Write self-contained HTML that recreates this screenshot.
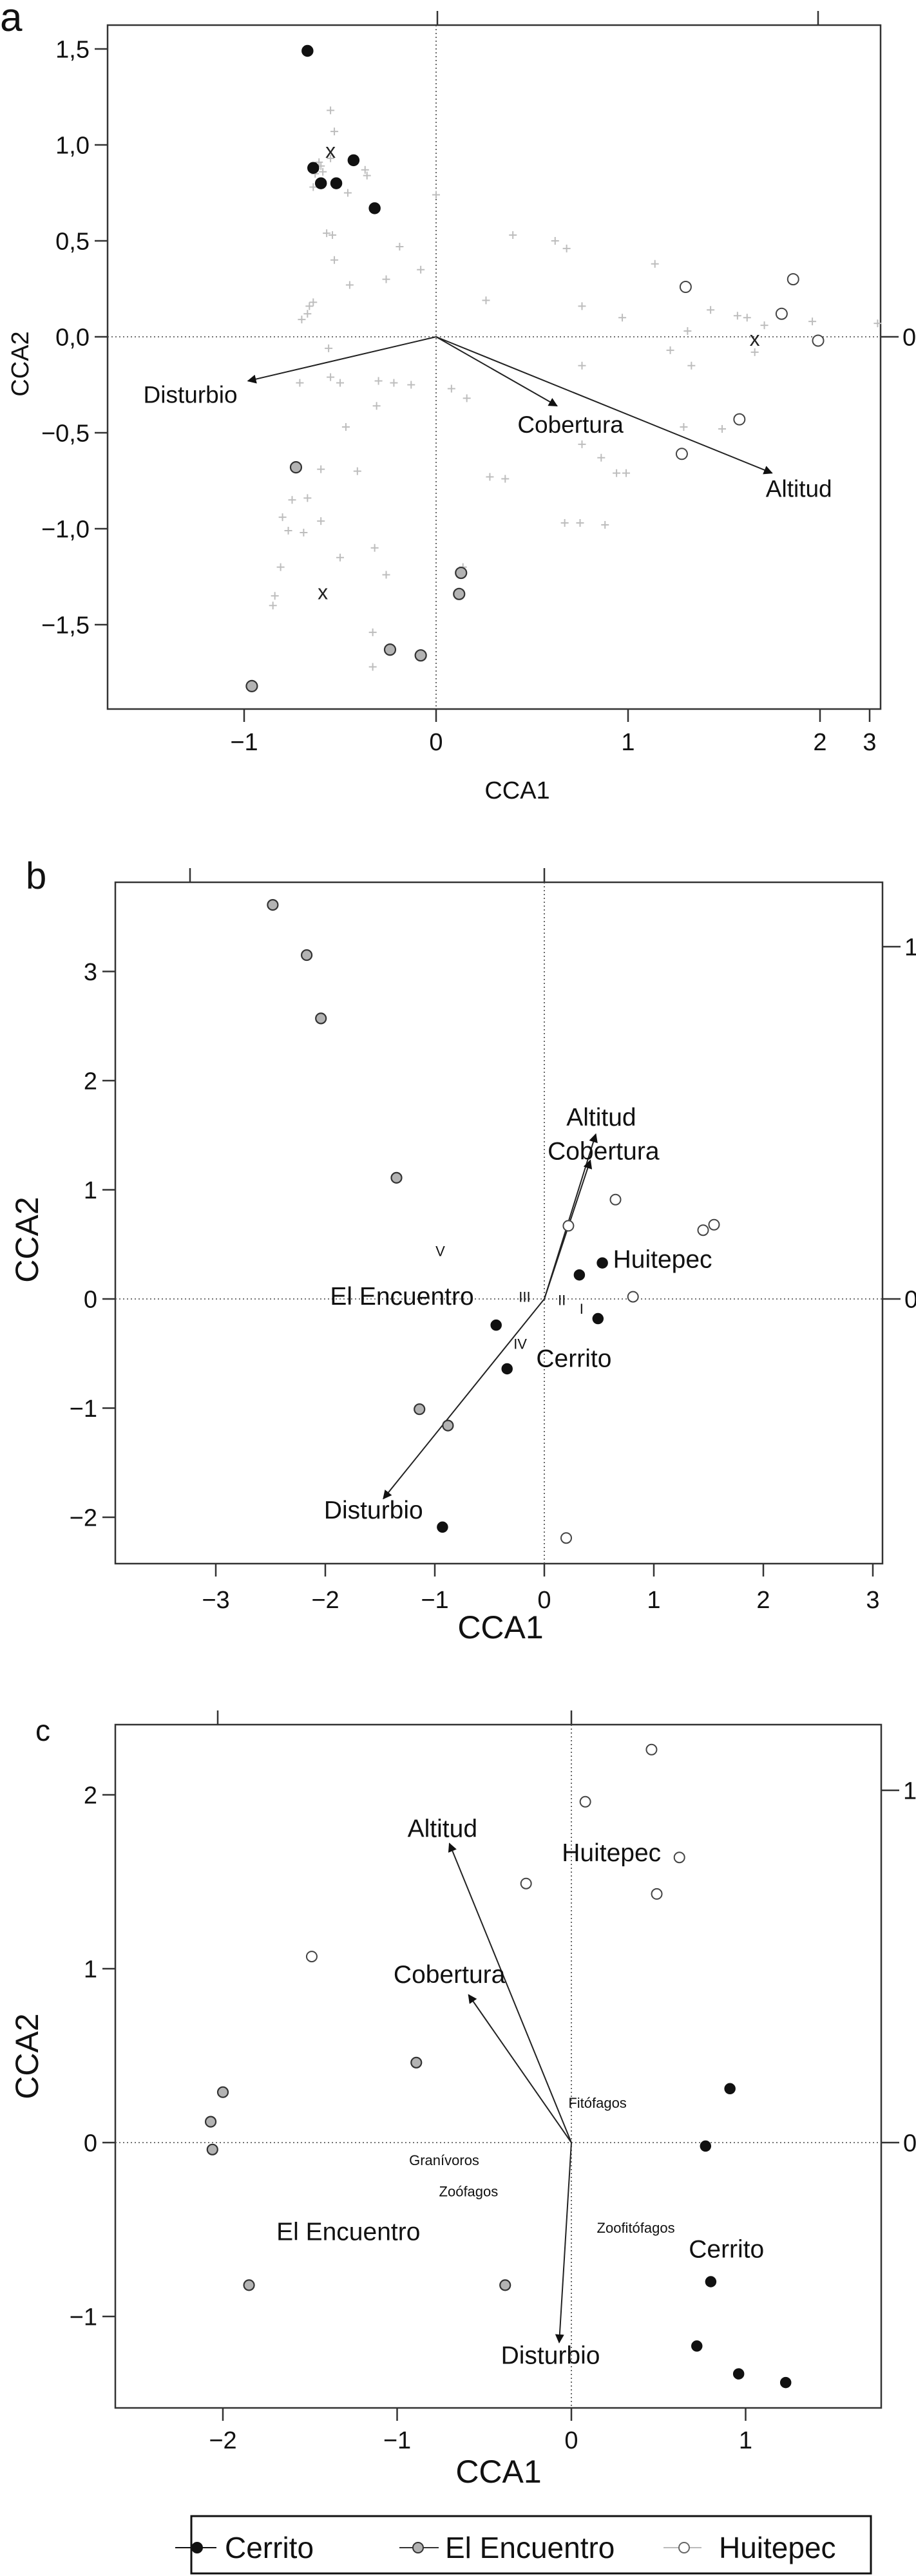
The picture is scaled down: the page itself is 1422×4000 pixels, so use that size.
<!DOCTYPE html>
<html><head><meta charset="utf-8"><style>
html,body{margin:0;padding:0;background:#fff;}
svg{display:block;font-family:"Liberation Sans",Arial,sans-serif;}
</style></head><body>
<svg id="fig" width="1422" height="4000" viewBox="0 0 1422 4000" xmlns="http://www.w3.org/2000/svg"></svg>
<script>
// ---------- Panel a data ----------
const aCerrito = [[-0.67,1.49],[-0.64,0.88],[-0.60,0.80],[-0.52,0.80],[-0.43,0.92],[-0.32,0.67]];
const aEncuentro = [[-0.73,-0.68],[0.13,-1.23],[0.12,-1.34],[-0.24,-1.63],[-0.08,-1.66],[-0.96,-1.82]];
const aHuitepec = [[1.30,0.26],[1.86,0.30],[1.80,0.12],[1.99,-0.02],[1.58,-0.43],[1.28,-0.61]];
const aCentroids = [[-0.55,0.97],[1.66,-0.01],[-0.59,-1.33]];
const aSpecies = [[-0.55,1.18],[-0.53,1.07],[-0.55,0.93],[-0.61,0.91],[-0.60,0.89],[-0.59,0.86],[-0.63,0.85],[-0.37,0.87],[-0.36,0.84],[-0.64,0.78],[-0.46,0.75],[0.00,0.74],[-0.57,0.54],[-0.54,0.53],[-0.53,0.40],[-0.19,0.47],[-0.45,0.27],[-0.26,0.30],[-0.08,0.35],[0.40,0.53],[0.62,0.50],[0.68,0.46],[1.14,0.38],[0.26,0.19],[-0.64,0.18],[-0.66,0.16],[-0.67,0.12],[-0.70,0.09],[0.76,0.16],[1.43,0.14],[0.97,0.10],[1.31,0.03],[1.57,0.11],[1.62,0.10],[1.71,0.06],[1.96,0.08],[2.30,0.07],[1.66,-0.08],[1.22,-0.07],[1.33,-0.15],[0.76,-0.15],[-0.56,-0.06],[-0.71,-0.24],[-0.55,-0.21],[-0.50,-0.24],[-0.30,-0.23],[-0.22,-0.24],[-0.13,-0.25],[0.08,-0.27],[0.16,-0.32],[-0.31,-0.36],[-0.47,-0.47],[1.29,-0.47],[1.49,-0.48],[0.76,-0.56],[0.86,-0.63],[-0.60,-0.69],[-0.41,-0.70],[0.28,-0.73],[0.36,-0.74],[0.94,-0.71],[0.99,-0.71],[-0.75,-0.85],[-0.67,-0.84],[-0.80,-0.94],[-0.77,-1.01],[-0.69,-1.02],[-0.60,-0.96],[0.67,-0.97],[0.75,-0.97],[0.88,-0.98],[-0.32,-1.10],[-0.81,-1.20],[-0.50,-1.15],[-0.26,-1.24],[0.14,-1.20],[-0.84,-1.35],[-0.85,-1.40],[-0.33,-1.54],[-0.33,-1.72]];
const aArrowNames = ["Disturbio","Cobertura","Altitud"];
const aArrowEnds = [[-0.98,-0.23],[0.63,-0.36],[1.75,-0.71]];
const aArrowLabels = [[-1.28,-0.30],[0.70,-0.455],[1.89,-0.79]];
const aXTicks = [-1,0,1,2];
const aXTickLabels = ["\u22121","0","1","2"];
const aYTicks = [1.5,1.0,0.5,0,-0.5,-1.0,-1.5];
const aYTickLabels = ["1,5","1,0","0,5","0,0","\u22120,5","\u22121,0","\u22121,5"];

// ---------- Panel b data ----------
const bCerrito = [[0.32,0.22],[0.53,0.33],[-0.44,-0.24],[0.49,-0.18],[-0.34,-0.64],[-0.93,-2.09]];
const bEncuentro = [[-2.48,3.61],[-2.17,3.15],[-2.04,2.57],[-1.35,1.11],[-1.14,-1.01],[-0.88,-1.16]];
const bHuitepec = [[0.22,0.67],[0.65,0.91],[1.45,0.63],[1.55,0.68],[0.81,0.02],[0.20,-2.19]];
const bArrowNames = ["Altitud","Cobertura","Disturbio"];
const bArrowEnds = [[0.47,1.51],[0.42,1.27],[-1.47,-1.83]];
const bArrowLabels = [[0.52,1.67],[0.54,1.36],[-1.56,-1.93]];
const bSiteNames = ["Huitepec","El Encuentro","Cerrito"];
const bSiteLabels = [[1.08,0.37],[-1.30,0.03],[0.27,-0.54]];
const bRomanNames = ["V","III","II","I","IV"];
const bRomanPos = [[-0.95,0.44],[-0.18,0.02],[0.16,-0.01],[0.34,-0.09],[-0.22,-0.41]];
const bXTicks = [-3,-2,-1,0,1,2,3];
const bXTickLabels = ["\u22123","\u22122","\u22121","0","1","2","3"];
const bYTicks = [3,2,1,0,-1,-2];
const bYTickLabels = ["3","2","1","0","\u22121","\u22122"];

// ---------- Panel c data ----------
const cCerrito = [[0.91,0.31],[0.77,-0.02],[0.80,-0.80],[0.72,-1.17],[0.96,-1.33],[1.23,-1.38]];
const cEncuentro = [[-0.89,0.46],[-2.00,0.29],[-2.07,0.12],[-2.06,-0.04],[-1.85,-0.82],[-0.38,-0.82]];
const cHuitepec = [[0.46,2.26],[0.08,1.96],[0.62,1.64],[-0.26,1.49],[0.49,1.43],[-1.49,1.07]];
const cArrowNames = ["Altitud","Cobertura","Disturbio"];
const cArrowEnds = [[-0.70,1.72],[-0.59,0.85],[-0.07,-1.15]];
const cArrowLabels = [[-0.74,1.81],[-0.70,0.97],[-0.12,-1.22]];
const cSiteNames = ["Huitepec","El Encuentro","Cerrito"];
const cSiteLabels = [[0.23,1.67],[-1.28,-0.51],[0.89,-0.61]];
const cGuildNames = ["Fitófagos","Granívoros","Zoófagos","Zoofitófagos"];
const cGuildPos = [[0.15,0.23],[-0.73,-0.10],[-0.59,-0.28],[0.37,-0.49]];
const cXTicks = [-2,-1,0,1];
const cXTickLabels = ["\u22122","\u22121","0","1"];
const cYTicks = [2,1,0,-1];
const cYTickLabels = ["2","1","0","\u22121"];

const NS = "http://www.w3.org/2000/svg";
const svg = document.getElementById("fig");
function el(tag, attrs, parent, text){
  const e = document.createElementNS(NS, tag);
  for (const k in attrs) e.setAttribute(k, attrs[k]);
  if (text !== undefined) e.textContent = text;
  (parent||svg).appendChild(e);
  return e;
}
const defs = el("defs", {});
const mk = el("marker", {id:"ah", viewBox:"0 0 10 10", refX:"9", refY:"5", markerWidth:"14", markerHeight:"14", orient:"auto-start-reverse", markerUnits:"userSpaceOnUse"}, defs);
el("path", {d:"M0,0 L10,5 L0,10 z", fill:"#111"}, mk);

function panel(cfg){
  const g = el("g", {});
  
  
  const X = v => cfg.x0 + v*cfg.ux;
  const Y = v => cfg.y0 - v*cfg.uy;
  const lt = el("text", {x:cfg.letter[0], y:cfg.letter[1], "font-size":cfg.letterSize, fill:"#111"}, g, cfg.letterText);
  
  
  const box = el("rect", {x:cfg.L, y:cfg.T, width:cfg.R-cfg.L, height:cfg.B-cfg.T, fill:"none", stroke:"#333", "stroke-width":2.5}, g);
  
  
  el("line", {x1:cfg.L, x2:cfg.R, y1:Y(0), y2:Y(0), stroke:"#444", "stroke-width":1.6, "stroke-dasharray":"2,4"}, g);
  el("line", {x1:X(0), x2:X(0), y1:cfg.T, y2:cfg.B, stroke:"#444", "stroke-width":1.6, "stroke-dasharray":"2,4"}, g);
  cfg.xt.forEach((v,i)=>{
    el("line", {x1:X(v), x2:X(v), y1:cfg.B, y2:cfg.B+20, stroke:"#333", "stroke-width":2.5}, g);
    const t = el("text", {x:X(v), y:cfg.xLabY, "font-size":cfg.tickSize, "text-anchor":"middle", fill:"#111"}, g, cfg.xtl[i]);
    
    
  });
  (cfg.extraX||[]).forEach(e=>{
    el("line", {x1:e[0], x2:e[0], y1:cfg.B, y2:cfg.B+20, stroke:"#333", "stroke-width":2.5}, g);
    const t = el("text", {x:e[0], y:cfg.xLabY, "font-size":cfg.tickSize, "text-anchor":"middle", fill:"#111"}, g, e[1]);
    
    
  });
  cfg.yt.forEach((v,i)=>{
    el("line", {x1:cfg.L-20, x2:cfg.L, y1:Y(v), y2:Y(v), stroke:"#333", "stroke-width":2.5}, g);
    const t = el("text", {x:cfg.L-28, y:Y(v)+cfg.tickSize*0.36, "font-size":cfg.tickSize, "text-anchor":"end", fill:"#111"}, g, cfg.ytl[i]);
    
    
  });
  cfg.right.forEach(r=>{
    el("line", {x1:cfg.R, x2:cfg.R+28, y1:r[0], y2:r[0], stroke:"#333", "stroke-width":2.5}, g);
    const t = el("text", {x:cfg.R+34, y:r[0]+cfg.tickSize*0.36, "font-size":cfg.tickSize, fill:"#111"}, g, r[1]);
    
    
  });
  cfg.top.forEach(x=>{
    el("line", {x1:x, x2:x, y1:cfg.T, y2:cfg.T-22, stroke:"#333", "stroke-width":2.5}, g);
  });
  const xt = el("text", {x:cfg.xTitle[0], y:cfg.xTitle[1], "font-size":cfg.titleSize, "text-anchor":"middle", fill:"#111"}, g, "CCA1");
  
  
  const yt = el("text", {x:0, y:0, "font-size":cfg.titleSize, "text-anchor":"middle", fill:"#111", transform:`translate(${cfg.yTitle[0]},${cfg.yTitle[1]}) rotate(-90)`}, g, "CCA2");
  
  
  (cfg.species||[]).forEach(p=>{
    const c = el("path", {d:`M${X(p[0])-6},${Y(p[1])} h12 M${X(p[0])},${Y(p[1])-6} v12`, stroke:"#bdbdbd", "stroke-width":2}, g);
    
    
  });
  cfg.arrows.forEach((p,i)=>{
    const a = el("line", {x1:X(0), y1:Y(0), x2:X(p[0]), y2:Y(p[1]), stroke:"#222", "stroke-width":2, "marker-end":"url(#ah)"}, g);
    
    
    const lp = cfg.arrowLabels[i];
    const t = el("text", {x:X(lp[0]), y:Y(lp[1])+cfg.labelSize*0.36, "font-size":cfg.labelSize, "text-anchor":"middle", fill:"#111"}, g, cfg.arrowNames[i]);
    
    
  });
  (cfg.texts||[]).forEach(tx=>{
    tx.pos.forEach((p,i)=>{
      const t = el("text", {x:X(p[0]), y:Y(p[1])+tx.size*0.36, "font-size":tx.size, "text-anchor":"middle", fill:"#111"}, g, tx.names[i]);
      
      
    });
  });
  (cfg.centroids||[]).forEach(p=>{
    const t = el("text", {x:X(p[0]), y:Y(p[1])+11, "font-size":32, "text-anchor":"middle", fill:"#222"}, g, "x");
    
    
  });
  const r = cfg.r;
  cfg.cer.forEach(p=>{
    const c = el("circle", {cx:X(p[0]), cy:Y(p[1]), r:r, fill:"#111", stroke:"#111", "stroke-width":1.5}, g);
    
    
  });
  cfg.enc.forEach(p=>{
    const c = el("circle", {cx:X(p[0]), cy:Y(p[1]), r:r, fill:"#b3b3b3", stroke:"#333", "stroke-width":2.2}, g);
    
    
  });
  cfg.hui.forEach(p=>{
    const c = el("circle", {cx:X(p[0]), cy:Y(p[1]), r:r, fill:"#fff", stroke:"#444", "stroke-width":2}, g);
    
    
  });
}

panel({name:"panel-a", letterText:"a", letter:[0,48], letterSize:62,
  L:167,R:1367,T:39,B:1101, x0:677,ux:298,y0:523,uy:298,
  xt:aXTicks, xtl:aXTickLabels, extraX:[[1350,"3"]], yt:aYTicks, ytl:aYTickLabels,
  xLabY:1165, tickSize:38, titleSize:38, labelSize:37, xTitle:[803,1240], yTitle:[44,565],
  right:[[523,"0"]], top:[679,1270], species:aSpecies, centroids:aCentroids,
  arrows:aArrowEnds, arrowNames:aArrowNames, arrowLabels:aArrowLabels,
  cer:aCerrito, enc:aEncuentro, hui:aHuitepec, r:8.5});

panel({name:"panel-b", letterText:"b", letter:[40,1380], letterSize:58,
  L:179,R:1370,T:1370,B:2428, x0:845,ux:170,y0:2017,uy:169.5,
  xt:bXTicks, xtl:bXTickLabels, yt:bYTicks, ytl:bYTickLabels,
  xLabY:2497, tickSize:38, titleSize:50, labelSize:39, xTitle:[777,2544], yTitle:[59,1925],
  right:[[1470,"1"],[2017,"0"]], top:[295,845],
  arrows:bArrowEnds, arrowNames:bArrowNames, arrowLabels:bArrowLabels,
  texts:[{names:bSiteNames,pos:bSiteLabels,size:39},{names:bRomanNames,pos:bRomanPos,size:22}],
  cer:bCerrito, enc:bEncuentro, hui:bHuitepec, r:8});

panel({name:"panel-c", letterText:"c", letter:[55,2703], letterSize:46,
  L:179,R:1368,T:2678,B:3739, x0:887,ux:270.5,y0:3327,uy:270,
  xt:cXTicks, xtl:cXTickLabels, yt:cYTicks, ytl:cYTickLabels,
  xLabY:3802, tickSize:38, titleSize:50, labelSize:39, xTitle:[774,3855], yTitle:[59,3193],
  right:[[2780,"1"],[3327,"0"]], top:[338,887],
  arrows:cArrowEnds, arrowNames:cArrowNames, arrowLabels:cArrowLabels,
  texts:[{names:cSiteNames,pos:cSiteLabels,size:39},{names:cGuildNames,pos:cGuildPos,size:22}],
  cer:cCerrito, enc:cEncuentro, hui:cHuitepec, r:8});

const lg = el("g", {});


el("rect", {x:297, y:3907, width:1055, height:89, fill:"#fff", stroke:"#111", "stroke-width":3}, lg);
const legendItems = [
  {name:"Cerrito", lx:[272,336], mx:306, tx:349, fill:"#111", stroke:"#111", line:"#111"},
  {name:"El Encuentro", lx:[620,681], mx:649, tx:691, fill:"#b3b3b3", stroke:"#333", line:"#333"},
  {name:"Huitepec", lx:[1030,1089], mx:1062, tx:1116, fill:"#fff", stroke:"#666", line:"#bbb"}
];
legendItems.forEach(it=>{
  const g2 = el("g", {}, lg);
  
  
  el("line", {x1:it.lx[0], x2:it.lx[1], y1:3956, y2:3956, stroke:it.line, "stroke-width":2}, g2);
  el("circle", {cx:it.mx, cy:3956, r:8, fill:it.fill, stroke:it.stroke, "stroke-width":2}, g2);
  el("text", {x:it.tx, y:3972, "font-size":46, fill:"#111"}, g2, it.name);
});
</script>
</body></html>
